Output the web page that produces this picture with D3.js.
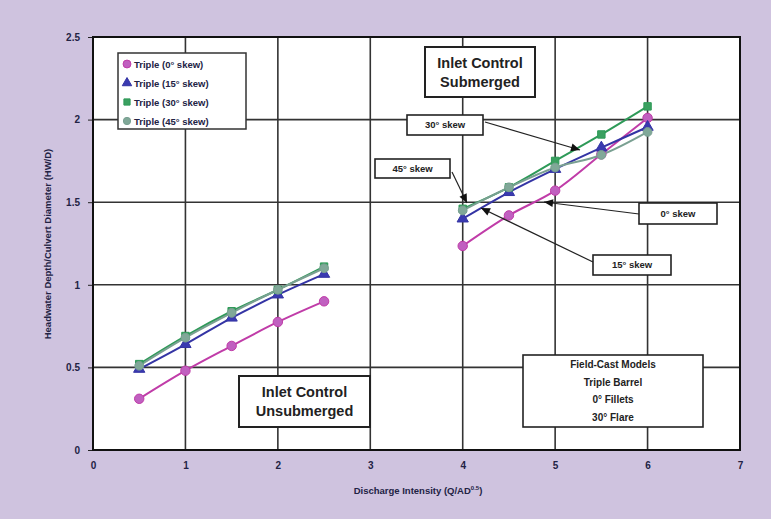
<!DOCTYPE html>
<html><head><meta charset="utf-8">
<script src="https://cdn.jsdelivr.net/npm/d3@7"></script>
<style>body{margin:0;background:#cfc3df}svg{display:block}</style>
</head><body>
<svg id="c" width="771" height="519"></svg>
<script>
const xTicks=[0,1,2,3,4,5,6,7];
const yTicks=[0,0.5,1,1.5,2,2.5];
const yTickLabels=["0","0.5","1","1.5","2","2.5"];
const xLow=[0.5,1,1.5,2,2.5];
const xHigh=[4,4.5,5,5.5,6];
const skew0Low=[0.31,0.48,0.63,0.775,0.90];
const skew0High=[1.235,1.42,1.57,1.79,2.01];
const skew15Low=[0.49,0.64,0.80,0.94,1.065];
const skew15High=[1.40,1.56,1.70,1.83,1.955];
const skew30Low=[0.52,0.69,0.84,0.97,1.11];
const skew30High=[1.46,1.59,1.75,1.91,2.08];
const skew45Low=[0.51,0.68,0.83,0.97,1.10];
const skew45High=[1.45,1.59,1.71,1.786,1.925];
const seriesNames=["Triple (0° skew)","Triple (15° skew)","Triple (30° skew)","Triple (45° skew)"];

const svg=d3.select("#c");
const W=771,H=519;
const m={l:93,r:740,t:37,b:450};
const x=d3.scaleLinear().domain([0,7]).range([m.l,m.r]);
const y=d3.scaleLinear().domain([0,2.5]).range([m.b,m.t]);

svg.append("rect").attr("width",W).attr("height",H).attr("fill","#cfc3df");
svg.append("rect").attr("x",m.l).attr("y",m.t).attr("width",m.r-m.l).attr("height",m.b-m.t).attr("fill","#fff");

// grid
const g=svg.append("g");
g.selectAll(".gx").data(xTicks.slice(1,-1)).join("line").attr("x1",d=>x(d)).attr("x2",d=>x(d)).attr("y1",m.t).attr("y2",m.b).attr("stroke","#333").attr("stroke-width",1.6);
g.selectAll(".gy").data(yTicks.slice(1,-1)).join("line").attr("y1",d=>y(d)).attr("y2",d=>y(d)).attr("x1",m.l).attr("x2",m.r).attr("stroke","#333").attr("stroke-width",1.6);

// axes
const ax=svg.append("g").attr("transform",`translate(0,${m.b})`).call(d3.axisBottom(x).tickValues(xTicks).tickSize(0).tickPadding(12).tickFormat(d3.format("d")));
const ay=svg.append("g").attr("transform",`translate(${m.l},0)`).call(d3.axisLeft(y).tickValues(yTicks).tickSize(5).tickPadding(8).tickFormat((d,i)=>yTickLabels[i]));
[ax,ay].forEach(a=>{a.select(".domain").remove();a.selectAll("text").attr("font-family","Arial, Liberation Sans, sans-serif").attr("font-size",10).attr("font-weight","bold").attr("fill","#222244");a.selectAll("line").attr("stroke","#222")});
svg.append("rect").attr("x",m.l).attr("y",m.t).attr("width",m.r-m.l).attr("height",m.b-m.t).attr("fill","none").attr("stroke","#111").attr("stroke-width",2);

// axis titles
svg.append("text").attr("x",418).attr("y",494).attr("text-anchor","middle").attr("font-family","Arial, Liberation Sans, sans-serif").attr("font-size",9.5).attr("font-weight","bold").attr("fill","#222244").text("Discharge Intensity (Q/AD").append("tspan").attr("font-size",6).attr("dy",-4).text("0.5").clone(true).attr("font-size",9.5).attr("dy",4).text(")");
svg.append("text").attr("transform","translate(51,244) rotate(-90)").attr("text-anchor","middle").attr("font-family","Arial, Liberation Sans, sans-serif").attr("font-size",9.5).attr("font-weight","bold").attr("fill","#222244").text("Headwater Depth/Culvert Diameter (HW/D)");

const series=[
 {name:seriesNames[0],low:skew0Low,high:skew0High,color:"#c03ca8",fill:"#c060c0",shape:d3.symbolCircle,size:70},
 {name:seriesNames[1],low:skew15Low,high:skew15High,color:"#3434a4",fill:"#3a3ab0",shape:d3.symbolTriangle,size:55},
 {name:seriesNames[2],low:skew30Low,high:skew30High,color:"#2e9a58",fill:"#3aa060",shape:d3.symbolSquare,size:55},
 {name:seriesNames[3],low:skew45Low,high:skew45High,color:"#7aa092",fill:"#80a898",shape:d3.symbolCircle,size:60}
];
const line=d3.line().x(d=>x(d[0])).y(d=>y(d[1])).curve(d3.curveCatmullRom.alpha(0.5));
const plot=svg.append("g");
series.forEach(s=>{
 [[xLow,s.low],[xHigh,s.high]].forEach(([xs,ys])=>{
  const pts=xs.map((v,i)=>[v,ys[i]]);
  plot.append("path").attr("d",line(pts)).attr("fill","none").attr("stroke",s.color).attr("stroke-width",2);
 });
});
series.forEach(s=>{
 [[xLow,s.low],[xHigh,s.high]].forEach(([xs,ys])=>{
  const pts=xs.map((v,i)=>[v,ys[i]]);
  plot.selectAll(null).data(pts).join("path").attr("d",d3.symbol(s.shape,s.size)).attr("transform",d=>`translate(${x(d[0])},${y(d[1])})`).attr("fill",s.fill).attr("stroke",s.color).attr("stroke-width",1);
 });
});

// legend
const lg=svg.append("g");
lg.append("rect").attr("x",118).attr("y",53).attr("width",128).attr("height",76).attr("fill","#fff").attr("stroke","#333").attr("stroke-width",1.5);
series.forEach((s,i)=>{
 const yy=64+i*19;
 lg.append("path").attr("d",d3.symbol(s.shape,s.size*0.7)).attr("transform",`translate(127,${yy})`).attr("fill",s.fill).attr("stroke",s.color);
 lg.append("text").attr("x",134).attr("y",yy+3.5).attr("font-family","Arial, Liberation Sans, sans-serif").attr("font-size",9.5).attr("font-weight","bold").attr("fill","#222244").text(s.name);
});

// boxes
function box(x0,y0,w,h,lines,fs,lh,sw){
 const gb=svg.append("g");
 gb.append("rect").attr("x",x0).attr("y",y0).attr("width",w).attr("height",h).attr("fill","#fff").attr("stroke","#222").attr("stroke-width",sw||1.6);
 const top=y0+h/2-(lines.length-1)*lh/2;
 lines.forEach((t,i)=>gb.append("text").attr("x",x0+w/2).attr("y",top+i*lh).attr("dy","0.36em").attr("text-anchor","middle").attr("font-family","Arial, Liberation Sans, sans-serif").attr("font-size",fs).attr("font-weight","bold").attr("fill","#222").text(t));
}
function arrow(x1,y1,x2,y2){
 svg.append("line").attr("x1",x1).attr("y1",y1).attr("x2",x2).attr("y2",y2).attr("stroke","#222").attr("stroke-width",1.2);
 const a=Math.atan2(y2-y1,x2-x1),L=9,Wd=4;
 const p=[[x2,y2],[x2-L*Math.cos(a)+Wd*Math.sin(a),y2-L*Math.sin(a)-Wd*Math.cos(a)],[x2-L*Math.cos(a)-Wd*Math.sin(a),y2-L*Math.sin(a)+Wd*Math.cos(a)]];
 svg.append("path").attr("d","M"+p.join("L")+"Z").attr("fill","#111");
}
arrow(485,122,580,150);
arrow(452,172,467,203);
arrow(639,214,544,202);
arrow(593,262,481,208);
box(425,47,110,50,["Inlet Control","Submerged"],14.5,19,2);
box(239,376,131,51,["Inlet Control","Unsubmerged"],14.5,19,2);
box(407,115,76,20,["30° skew"],9.5,0);
box(375,159,75,19,["45° skew"],9.5,0);
box(639,203,78,21,["0° skew"],9.5,0);
box(593,255,78,20,["15° skew"],9.5,0);
box(523,355,180,72,["Field-Cast Models","Triple Barrel","0° Fillets","30° Flare"],10,17.5,1.6);
</script>
</body></html>
